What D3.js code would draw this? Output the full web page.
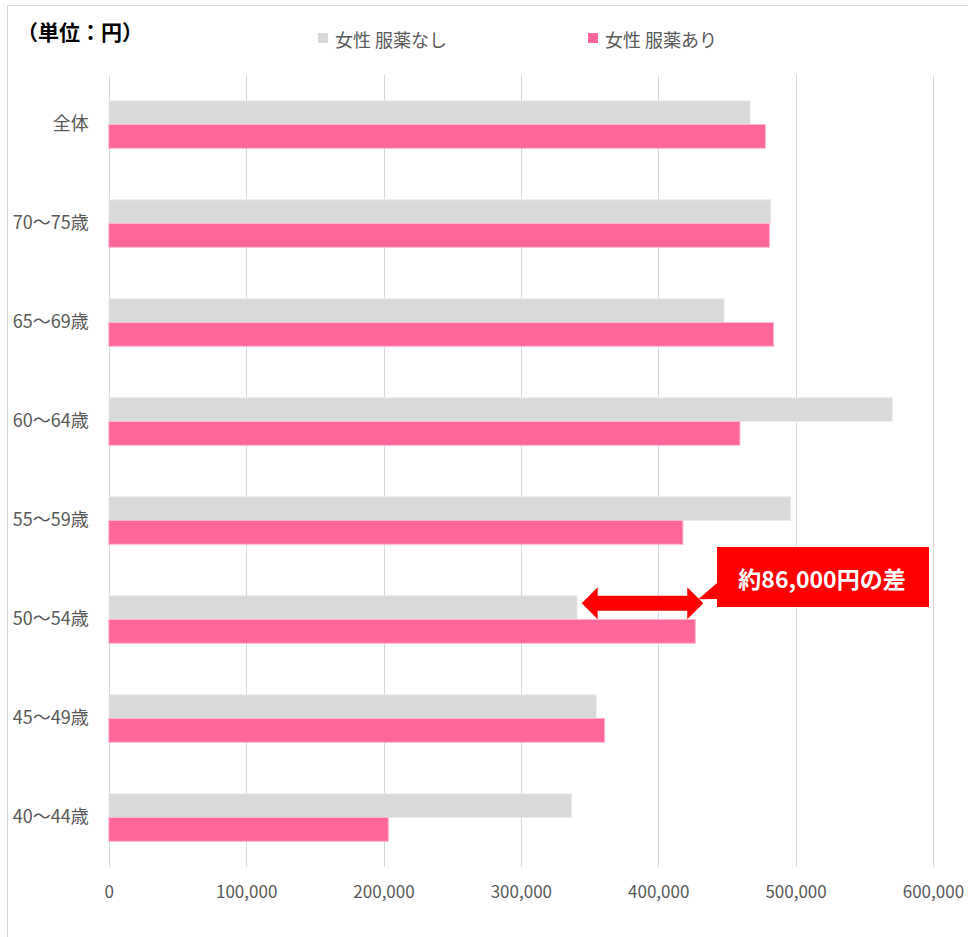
<!DOCTYPE html>
<html lang="ja">
<head>
<meta charset="utf-8">
<script src="https://cdn.jsdelivr.net/npm/d3@7"></script>
<style>
  html, body { margin: 0; padding: 0; background: #fff; }
  svg { display: block; font-family: "Noto Sans CJK JP", "Noto Sans", sans-serif; }
</style>
</head>
<body>
<svg id="chart" width="968" height="937"></svg>
<script>
// 年齢層ごとの年間支出（円）
const categories = ["全体", "70〜75歳", "65〜69歳", "60〜64歳", "55〜59歳", "50〜54歳", "45〜49歳", "40〜44歳"];
const seriesNames = ["女性 服薬なし", "女性 服薬あり"];
const noMedication = [467000, 482000, 448000, 570500, 496500, 341000, 355000, 337000];
const withMedication = [478000, 481000, 484000, 459500, 418000, 427000, 361000, 203500];
const xTicks = [0, 100000, 200000, 300000, 400000, 500000, 600000];
const unitLabel = "（単位：円）";
const calloutText = "約86,000円の差";
const calloutCategory = "50〜54歳";

const colors = ["#D9D9D9", "#FF6699"];
const edgeColors = ["#EDEDED", "#FFB3CC"];
const textColor = "#595959";

const svg = d3.select("#chart");

// outer frame
svg.append("rect")
  .attr("x", 7.5).attr("y", 5.5)
  .attr("width", 1000).attr("height", 1000)
  .attr("fill", "none").attr("stroke", "#D9D9D9").attr("stroke-width", 1);

const plot = { left: 108.8, right: 932.9, top: 75, bottom: 867 };

const x = d3.scaleLinear().domain([0, 600000]).range([plot.left, plot.right]);
const y = d3.scaleBand().domain(categories).range([plot.top, plot.bottom])
  .paddingInner(0.52).paddingOuter(0.26);
const ySub = d3.scaleBand().domain(seriesNames).range([0, y.bandwidth()]);

// vertical gridlines
svg.append("g").selectAll("line").data(xTicks).join("line")
  .attr("x1", d => Math.round(x(d)) + 0.5).attr("x2", d => Math.round(x(d)) + 0.5)
  .attr("y1", plot.top).attr("y2", plot.bottom)
  .attr("stroke", "#D9D9D9").attr("stroke-width", 1);

// x axis labels
const xAxis = d3.axisBottom(x).tickValues(xTicks).tickSize(0).tickPadding(0)
  .tickFormat(d3.format(","));
const gx = svg.append("g").attr("transform", `translate(0,${plot.bottom + 19})`).call(xAxis);
gx.select(".domain").remove();
gx.selectAll("text")
  .attr("fill", textColor).attr("font-size", 17)
  .attr("font-family", '"Noto Sans CJK JP", sans-serif');

// category labels
const yAxis = d3.axisLeft(y).tickSize(0).tickPadding(0);
const gy = svg.append("g").attr("transform", `translate(${plot.left - 20},0)`).call(yAxis);
gy.select(".domain").remove();
gy.selectAll("text")
  .attr("fill", textColor).attr("font-size", 18)
  .attr("font-family", '"Noto Sans CJK JP", sans-serif');

// bars
const series = [noMedication, withMedication];
series.forEach((vals, si) => {
  svg.append("g").selectAll("rect").data(categories).join("rect")
    .attr("x", x(0))
    .attr("y", c => y(c) + ySub(seriesNames[si]))
    .attr("width", (c, i) => x(vals[i]) - x(0))
    .attr("height", ySub.bandwidth())
    .attr("fill", colors[si])
    .attr("stroke", edgeColors[si]).attr("stroke-width", 1);
});

// unit label
svg.append("text")
  .attr("x", 17).attr("y", 40)
  .attr("font-size", 21).attr("font-weight", "bold").attr("fill", "#000")
  .text(unitLabel);

// legend
const legendX = [318, 588];
const legend = svg.append("g");
seriesNames.forEach((name, i) => {
  legend.append("rect")
    .attr("x", legendX[i]).attr("y", 33).attr("width", 10).attr("height", 10)
    .attr("fill", colors[i]);
  legend.append("text")
    .attr("x", legendX[i] + 17).attr("y", 47)
    .attr("font-size", 18).attr("fill", textColor)
    .text(name);
});

// difference arrow for the highlighted age group
const ci = categories.indexOf(calloutCategory);
const ay = y(calloutCategory) + 7.5;
const ax0 = x(noMedication[ci]) + 4.5;
const ax1 = x(withMedication[ci]) + 8;
const headL = 16, headH = 16, shaftH = 7.5;
const arrowPts = [
  [ax0, ay], [ax0 + headL, ay - headH], [ax0 + headL, ay - shaftH],
  [ax1 - headL, ay - shaftH], [ax1 - headL, ay - headH], [ax1, ay],
  [ax1 - headL, ay + headH], [ax1 - headL, ay + shaftH],
  [ax0 + headL, ay + shaftH], [ax0 + headL, ay + headH]
];
svg.append("polygon")
  .attr("points", arrowPts.map(p => p.join(",")).join(" "))
  .attr("fill", "#FF0000");

// callout box
const bx = 717, by = 547, bw = 212, bh = 60;
const callout = svg.append("g");
callout.append("path")
  .attr("d", `M${bx},${by} H${bx + bw} V${by + bh} H${bx} V${by + 52} L${ax1 - 5},${ay - 4} L${bx},${by + 36} Z`)
  .attr("fill", "#FF0000");
callout.append("text")
  .attr("x", bx + bw / 2 - 1).attr("y", by + 31)
  .attr("text-anchor", "middle").attr("dominant-baseline", "central")
  .attr("font-size", 23).attr("font-weight", "bold").attr("fill", "#fff")
  .text(calloutText);
</script>
</body>
</html>
